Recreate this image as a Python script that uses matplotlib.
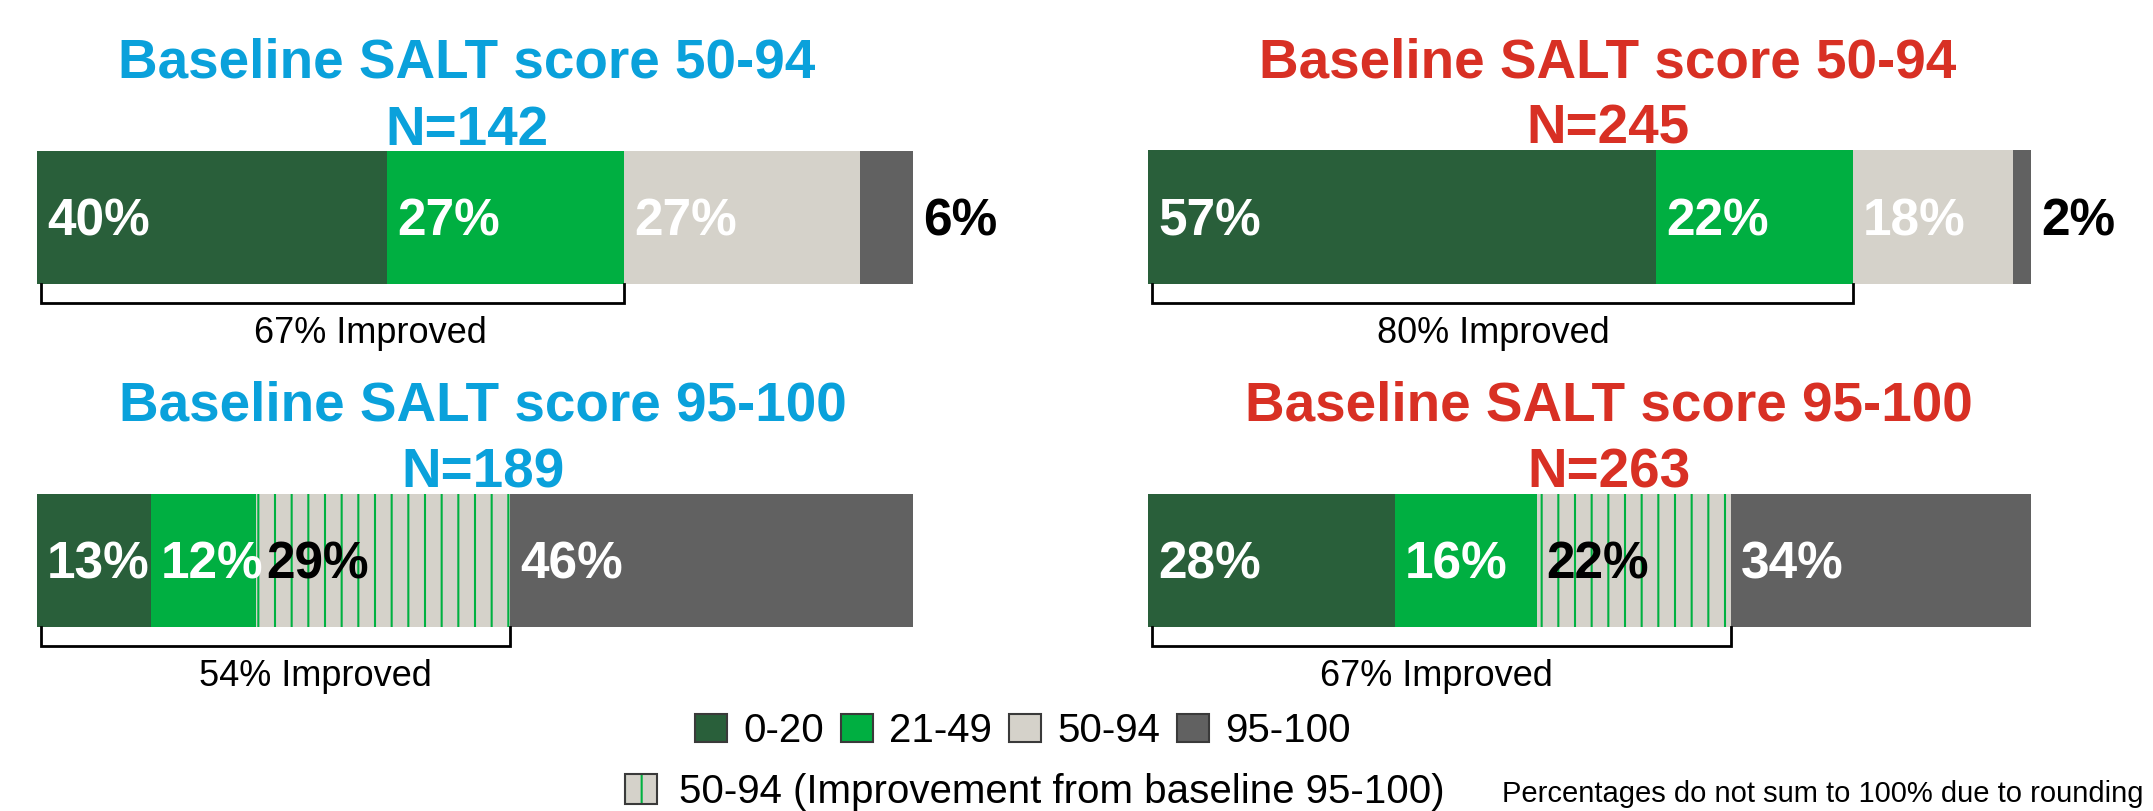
import numpy as np
import matplotlib.pyplot as plt
from matplotlib.patches import Patch
from matplotlib.legend_handler import HandlerTuple

plt.rcParams['font.family'] = ['Liberation Sans', 'DejaVu Sans']
plt.rcParams['hatch.linewidth'] = 1.5

# --- data ---
categories = ["0-20", "21-49", "50-94", "95-100"]
hatched_label = "50-94 (Improvement from baseline 95-100)"

titles = ["Baseline SALT score 50-94", "Baseline SALT score 95-100",
          "Baseline SALT score 50-94", "Baseline SALT score 95-100"]
n_patients = [142, 189, 245, 263]

left_top_values = [40, 27, 27, 6]
left_bottom_values = [13, 12, 29, 46]
right_top_values = [57, 22, 18, 2]
right_bottom_values = [28, 16, 22, 34]

improved_pct = [67, 54, 80, 67]
improved_segments = [2, 3, 2, 3]
from_95_100 = [False, True, False, True]

footnote = "Percentages do not sum to 100% due to rounding"

# --- style ---
seg_colors = ["#295F3A", "#00AF41", "#D5D2CA", "#616161"]
hatch_green = "#00B140"
blue = "#0AA1DB"
red = "#D83024"
title_colors = [blue, blue, red, red]

W, H = 2153, 811
fig = plt.figure(figsize=(W / 100, H / 100), dpi=100)
PT = 0.72  # points per pixel at dpi 100

# bar boxes in pixels (left, top, right, bottom)
boxes = [(37, 151, 913, 284), (37, 494, 913, 627),
         (1148, 150, 2031, 284), (1148, 494, 2031, 627)]
title_x = [0.491, 0.509, 0.521, 0.522]
improved_dx = [4.5, 4.8, -0.8, -0.3]

all_values = [left_top_values, left_bottom_values, right_top_values, right_bottom_values]

for i, vals in enumerate(all_values):
    l, t, r, b = boxes[i]
    ax = fig.add_axes([l / W, 1 - b / H, (r - l) / W, (b - t) / H])
    vals = np.array(vals)
    lefts = np.concatenate([[0], np.cumsum(vals)[:-1]])
    total = vals.sum()

    for j, (v, lft) in enumerate(zip(vals, lefts)):
        hatched = from_95_100[i] and j == 2
        if hatched:
            ax.barh(0, v, left=lft, height=1, color=seg_colors[j],
                    edgecolor=hatch_green, hatch='|', linewidth=0)
        else:
            ax.barh(0, v, left=lft, height=1, color=seg_colors[j], linewidth=0)

        # percentage labels
        if v < 8:
            x, dx, col = total, 10, "black"
        else:
            x, dx, col = lft, 10, "black" if hatched else "white"
        ax.annotate(f"{v}%", (x, 0), xytext=(dx * PT, -0.716 * 37 / 2),
                    textcoords='offset points', ha='left', va='baseline',
                    fontsize=37, fontweight='bold', color=col,
                    annotation_clip=False)

    ax.set_xlim(0, total)
    ax.set_ylim(-0.5, 0.5)
    ax.axis('off')

    # titles
    ax.annotate(titles[i], (title_x[i], 1), xycoords='axes fraction',
                xytext=(0, 73 * PT), textcoords='offset points',
                ha='center', va='baseline', fontsize=39.5, fontweight='bold',
                color=title_colors[i], annotation_clip=False)
    ax.annotate(f"N={n_patients[i]}", (title_x[i], 1), xycoords='axes fraction',
                xytext=(0, 6 * PT), textcoords='offset points',
                ha='center', va='baseline', fontsize=39.5, fontweight='bold',
                color=title_colors[i], annotation_clip=False)

    # improved bracket
    end = vals[:improved_segments[i]].sum()
    ax.plot([0.5, 0.5, end, end], [-0.5, -0.645, -0.645, -0.5], color="black",
            lw=2, clip_on=False, solid_joinstyle='miter')
    ax.annotate(f"{improved_pct[i]}% Improved", (end / 2 + improved_dx[i], -0.5),
                xytext=(0, -59 * PT), textcoords='offset points',
                ha='center', va='baseline', fontsize=26, color="black",
                annotation_clip=False)

# legend row 1
handles = [Patch(facecolor=c, edgecolor="#3a3a3a", linewidth=1.5) for c in seg_colors]
fig.legend(handles, categories, loc='center left',
           bbox_to_anchor=(695 / W, 1 - 731 / H), ncol=4, frameon=False,
           fontsize=29, handlelength=0.8, handleheight=0.7, handletextpad=0.4,
           columnspacing=0.42, borderpad=0, borderaxespad=0)

# legend row 2 (hatched)
hatch_handle = (Patch(facecolor=seg_colors[2], edgecolor=hatch_green, hatch='|', linewidth=0),
                Patch(facecolor='none', edgecolor="#3a3a3a", linewidth=1.5))
fig.legend([hatch_handle], [hatched_label], loc='center left',
           bbox_to_anchor=(625 / W, 1 - 792 / H), frameon=False,
           fontsize=29, handlelength=0.8, handleheight=0.8, handletextpad=0.55,
           borderpad=0, borderaxespad=0,
           handler_map={tuple: HandlerTuple(ndivide=1, pad=0)})

fig.text(2143 / W, 1 - 802 / H, footnote, ha='right', va='baseline', fontsize=21)

fig.savefig("out.png", dpi=100)
